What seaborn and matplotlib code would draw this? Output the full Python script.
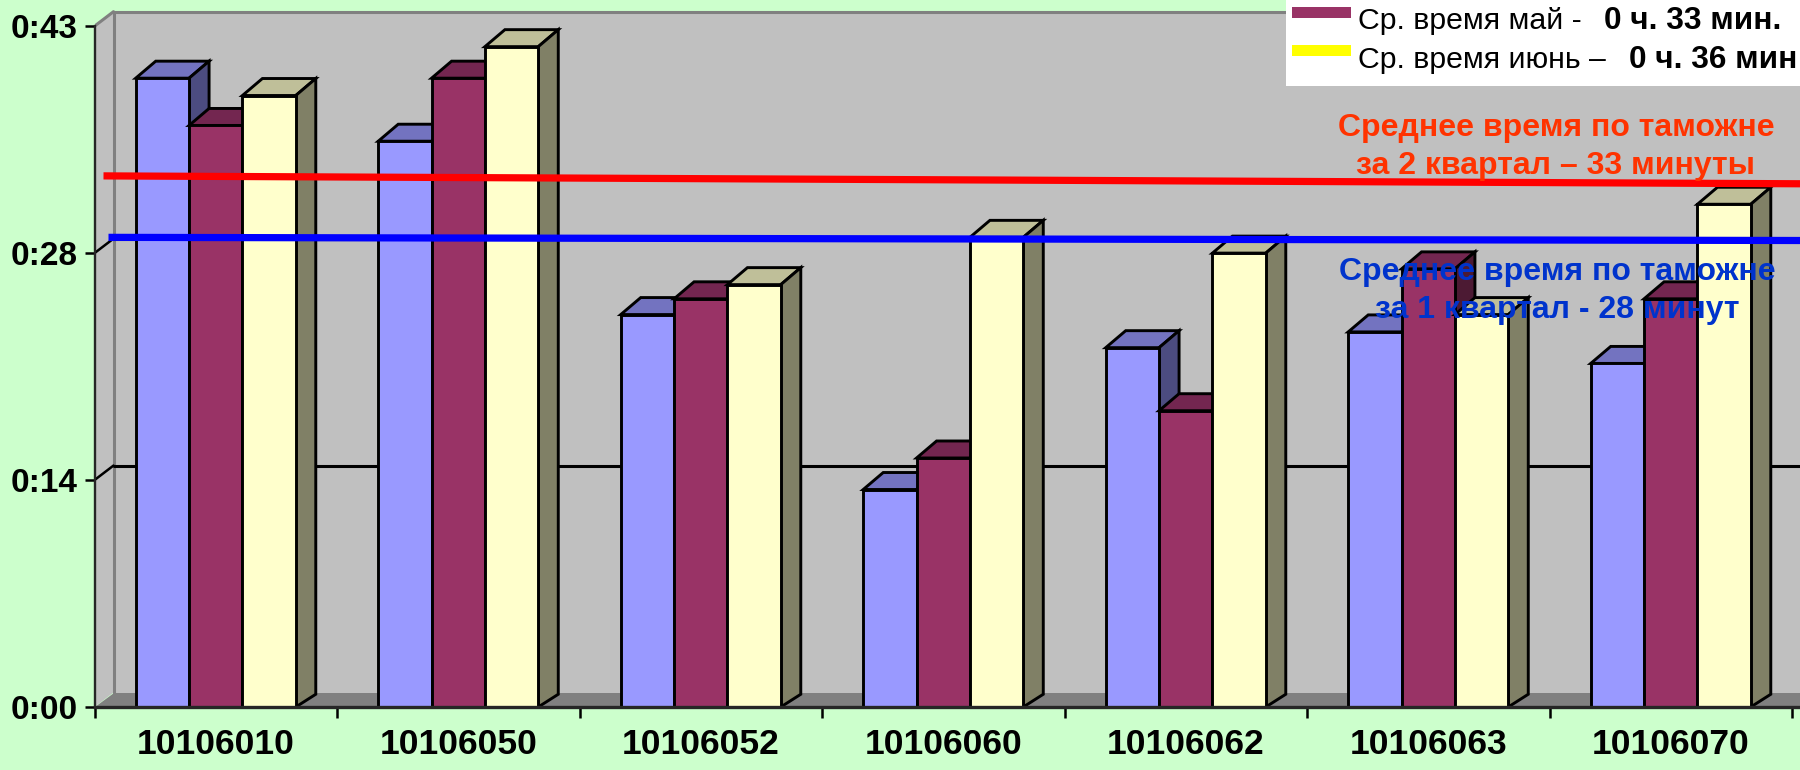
import matplotlib
matplotlib.use('Agg')
import matplotlib.pyplot as plt
from matplotlib.patches import Polygon, Rectangle
import pandas as pd
import seaborn as sns

# posts, minutes per month
posts = ['10106010', '10106050', '10106052', '10106060', '10106062', '10106063', '10106070']
april = [39.9, 35.9, 24.9, 13.8, 22.8, 23.8, 21.8]
may = [36.9, 39.9, 25.9, 15.8, 18.8, 27.8, 25.9]
june = [38.8, 41.9, 26.8, 29.8, 28.8, 24.9, 31.9]
months = ['апрель', 'май', 'июнь']

y_ticks = [0, 14.4, 28.8, 43.2]
y_labels = ['0:00', '0:14', '0:28', '0:43']

# quarter averages as drawn, slightly sloped in the source
q2_line = [33.7, 33.2]
q1_line = [29.8, 29.6]

front_colors = ['#9999FF', '#993366', '#FFFFCC']
top_colors = ['#7373C0', '#732650', '#BFBF99']
side_colors = ['#4C4C80', '#4C1A33', '#808066']

W, H = 1800, 770
X0, Y0 = 94.5, 707
CAT_PX = 242.5
MIN_PX = 15.76

sns.set_style('white')
plt.rcParams['font.family'] = ['Liberation Sans', 'DejaVu Sans']

df = pd.DataFrame({
    'post': posts * 3,
    'month': [m for m in months for _ in posts],
    'minutes': april + may + june,
})

fig = plt.figure(figsize=(W / 100, H / 100), dpi=100, facecolor='#CCFFCC')
ax = fig.add_axes([X0 / W, (H - Y0) / H, (W - X0) / W, Y0 / H])
ax.set_facecolor('none')

sns.barplot(data=df, x='post', y='minutes', hue='month', hue_order=months, palette=front_colors,
            width=0.66, gap=0, errorbar=None, legend=False, saturation=1,
            edgecolor='black', linewidth=2.1, ax=ax)

x_left = -0.5
x_right = x_left + (W - X0) / CAT_PX
y_top = Y0 / MIN_PX
ax.set_xlim(x_left, x_right)
ax.set_ylim(0, y_top)

# fake 3d: walls and floor
wall_dx = 19 / CAT_PX
wall_dy = 14.5 / MIN_PX
top = y_ticks[-1]
ax.add_patch(Polygon([(x_left + wall_dx, wall_dy), (x_right, wall_dy), (x_right, top + wall_dy),
                      (x_left + wall_dx, top + wall_dy)], fc='#C0C0C0', ec='none', zorder=0.5))
ax.add_patch(Polygon([(x_left, 0), (x_left + wall_dx, wall_dy), (x_left + wall_dx, top + wall_dy), (x_left, top)],
                     fc='#C0C0C0', ec='none', zorder=0.5))
ax.add_patch(Polygon([(x_left, 0), (x_right, 0), (x_right, wall_dy), (x_left + wall_dx, wall_dy)],
                     fc='#808080', ec='none', zorder=0.6))
ax.plot([x_left + wall_dx, x_left + wall_dx, x_right], [wall_dy, top + wall_dy, top + wall_dy],
        color='#808080', lw=2.2, zorder=0.7)
ax.plot([x_left, x_left + wall_dx], [top, top + wall_dy], color='#808080', lw=2.2, zorder=0.7)
for t in y_ticks[1:3]:
    ax.plot([x_left, x_left + wall_dx], [t, t + wall_dy], color='black', lw=1.8, zorder=0.8)
    ax.plot([x_left + wall_dx, x_right], [t + wall_dy, t + wall_dy], color='black', lw=2.2, zorder=0.8)

# fake 3d: tops and sides taken from the bars seaborn drew
bar_dx = 20 / CAT_PX
bar_dy = 17 / MIN_PX
for i, cont in enumerate(ax.containers):
    z = 2 + i * 0.1
    for bar in cont:
        x0 = bar.get_x()
        x1 = x0 + bar.get_width()
        h = bar.get_height()
        bar.set_zorder(z + 0.02)
        ax.add_patch(Polygon([(x0, h), (x1, h), (x1 + bar_dx, h + bar_dy), (x0 + bar_dx, h + bar_dy)],
                             fc=top_colors[i], ec='black', lw=2.1, zorder=z))
        ax.add_patch(Polygon([(x1, 0), (x1 + bar_dx, bar_dy * 0.75), (x1 + bar_dx, h + bar_dy), (x1, h)],
                             fc=side_colors[i], ec='black', lw=2.1, zorder=z))

ax.plot([x_left + 9 / CAT_PX, x_right], q2_line, color='#FF0000', lw=5.2, zorder=5, solid_capstyle='butt')
ax.plot([x_left + 14 / CAT_PX, x_right], q1_line, color='#0000FF', lw=5.2, zorder=5, solid_capstyle='butt')

# axes
sns.despine(ax=ax, top=True, right=True)
ax.spines['left'].set_bounds(0, top)
ax.spines['left'].set_linewidth(1.7)
ax.spines['bottom'].set_linewidth(2.4)
ax.spines['left'].set_zorder(6)
ax.spines['bottom'].set_zorder(6)
ax.set_yticks(y_ticks, y_labels, fontsize=24, fontweight='bold', color='black')
ax.set_xticks(range(len(posts)), posts, fontsize=25.5, fontweight='bold', color='black')
ax.set_xticks([x_left + i for i in range(8) if x_left + i <= x_right], minor=True)
ax.tick_params(axis='y', length=7, width=1.8, color='black', left=True, pad=5)
ax.tick_params(axis='x', which='major', length=0, pad=15)
ax.tick_params(axis='x', which='minor', length=8, width=1.8, color='black', bottom=True)
ax.set_xlabel('')
ax.set_ylabel('')


def px(x, y):
    return x / W, 1 - y / H


# legend box, only two rows are visible in the source
fig_tr = fig.transFigure
ax.add_patch(Rectangle(px(1286, 86), (W - 1286) / W, 86 / H, transform=fig_tr, fc='white', ec='none',
                       zorder=7, clip_on=False))
ax.add_patch(Rectangle(px(1292, 17.7), 59 / W, 10.4 / H, transform=fig_tr, fc='#993366', ec='none',
                       zorder=8, clip_on=False))
ax.add_patch(Rectangle(px(1292, 55.7), 59 / W, 10.6 / H, transform=fig_tr, fc='#FFFF00', ec='none',
                       zorder=8, clip_on=False))

legend_rows = [
    (29, 'Ср. время май - ', 1603.7, '0 ч. 33 мин.'),
    (67.5, 'Ср. время июнь – ', 1628.6, '0 ч. 36 мин'),
]
for base, plain, bold_x, bold in legend_rows:
    x, y = px(1357.7, base)
    ax.text(x, y, plain, transform=fig_tr, fontsize=21.8, color='black', va='baseline', zorder=9, clip_on=False)
    x, y = px(bold_x, base)
    ax.text(x, y, bold, transform=fig_tr, fontsize=22.8, fontweight='bold', color='black', va='baseline',
            zorder=9, clip_on=False)

notes = [
    (1556, 136, 'Среднее время по таможне', '#FF3300'),
    (1556, 174, 'за 2 квартал – 33 минуты', '#FF3300'),
    (1557, 280, 'Среднее время по таможне', '#0033CC'),
    (1557, 318, 'за 1 квартал - 28 минут', '#0033CC'),
]
for x_px, y_px, txt, col in notes:
    x, y = px(x_px, y_px)
    ax.text(x, y, txt, transform=fig_tr, fontsize=23, fontweight='bold', color=col, ha='center', va='baseline',
            zorder=9, clip_on=False)

fig.savefig('out.png', dpi=100, facecolor=fig.get_facecolor())
plt.close(fig)
